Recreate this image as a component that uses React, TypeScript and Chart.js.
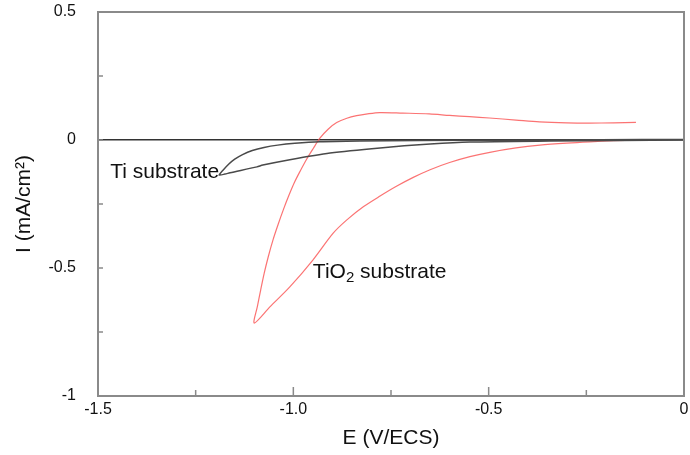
import React, { useEffect, useRef } from "react";
import { Chart, registerables } from "chart.js";

Chart.register(...registerables);

// Ti substrate sweep: upper branch from 0 V down to the vertex, then lower branch back
const tiPotential = [
  0, -0.215, -0.47, -0.677, -0.83, -0.932, -0.996, -1.04, -1.075, -1.105, -1.13, -1.15, -1.165, -1.18, -1.19,
  -1.175, -1.162, -1.093, -1.078, -1.009, -0.906, -0.778, -0.65, -0.548, -0.343, -0.164, 0,
];
const tiCurrent = [
  0.002, 0.001, -0.001, -0.002, -0.004, -0.007, -0.013, -0.02, -0.029, -0.041, -0.057, -0.075, -0.094, -0.118, -0.137,
  -0.133, -0.128, -0.105, -0.098, -0.077, -0.051, -0.031, -0.016, -0.008, -0.004, -0.002, 0,
];

// TiO2 substrate sweep: cathodic branch from -0.12 V to the vertex, then return branch
const tio2Potential = [
  -0.12, -0.18, -0.241, -0.3, -0.369, -0.43, -0.497, -0.548, -0.6, -0.65, -0.693, -0.735,
  -0.778, -0.82, -0.863, -0.898, -0.95, -1.009, -1.06, -1.1,
  -1.092, -1.0835, -1.0745, -1.064, -1.052, -1.039, -1.025, -1.011, -0.997, -0.982, -0.966, -0.949,
  -0.932, -0.911, -0.889, -0.863, -0.838, -0.81, -0.779, -0.72, -0.652, -0.6, -0.549, -0.498,
  -0.43, -0.37, -0.3, -0.243, -0.18, -0.123,
];
const tio2Current = [
  0, -0.003, -0.007, -0.012, -0.02, -0.031, -0.048, -0.065, -0.088, -0.116, -0.146, -0.18,
  -0.219, -0.26, -0.312, -0.364, -0.469, -0.574, -0.652, -0.715,
  -0.65, -0.585, -0.52, -0.455, -0.39, -0.33, -0.27, -0.215, -0.165, -0.12, -0.075, -0.033,
  0.007, 0.042, 0.068, 0.085, 0.095, 0.102, 0.107, 0.105, 0.102, 0.096, 0.091, 0.086,
  0.078, 0.071, 0.067, 0.066, 0.067, 0.069,
];

// Tick labels (every 0.25 gets a tick mark, only these values are labelled)
const xMajorValues = [-1.5, -1.0, -0.5, 0];
const xTickLabels = ["-1.5", "-1.0", "-0.5", "0"];
const yMajorValues = [0.5, 0, -0.5, -1];
const yTickLabels = ["0.5", "0", "-0.5", "-1"];

const FONT = "'Liberation Sans', Arial, Helvetica, sans-serif";
const TEXT = "#111";
const FRAME = "#8a8a8a";

const labelFor = (values: number[], labels: string[], v: number) => {
  const i = values.findIndex((m) => Math.abs(m - v) < 1e-6);
  return i >= 0 ? labels[i] : "";
};

const toPoints = (xs: number[], ys: number[]) => xs.map((x, i) => ({ x, y: ys[i] }));

// Closes the box, draws inward tick marks and the curve annotations
const framePlugin = {
  id: "frameAndNotes",
  afterDraw(chart: any) {
    const { ctx, chartArea } = chart;
    const { left, right, top, bottom } = chartArea;
    const xs = chart.scales.x;
    const ys = chart.scales.y;
    ctx.save();
    ctx.strokeStyle = FRAME;
    ctx.lineWidth = 2;
    ctx.beginPath();
    ctx.moveTo(left, top);
    ctx.lineTo(right, top);
    ctx.lineTo(right, bottom);
    ctx.stroke();

    ctx.lineWidth = 1.5;
    ctx.beginPath();
    xs.ticks.forEach((t: any) => {
      const px = xs.getPixelForValue(t.value);
      if (px <= left + 1 || px >= right - 1) return;
      const major = labelFor(xMajorValues, xTickLabels, t.value) !== "";
      ctx.moveTo(px, bottom);
      ctx.lineTo(px, bottom - (major ? 9 : 6));
    });
    ys.ticks.forEach((t: any) => {
      const py = ys.getPixelForValue(t.value);
      if (py <= top + 1 || py >= bottom - 1) return;
      ctx.moveTo(left, py);
      ctx.lineTo(left + 5, py);
    });
    ctx.stroke();

    // annotations
    ctx.fillStyle = TEXT;
    ctx.textBaseline = "middle";
    ctx.font = `21px ${FONT}`;
    ctx.textAlign = "right";
    ctx.fillText("Ti substrate", xs.getPixelForValue(-1.19), ys.getPixelForValue(-0.125));

    ctx.textAlign = "left";
    let tx = xs.getPixelForValue(-0.95);
    const ty = ys.getPixelForValue(-0.516);
    ctx.fillText("TiO", tx, ty);
    tx += ctx.measureText("TiO").width;
    ctx.font = `15px ${FONT}`;
    ctx.fillText("2", tx, ty + 6);
    tx += ctx.measureText("2").width;
    ctx.font = `21px ${FONT}`;
    ctx.fillText(" substrate", tx, ty);
    ctx.restore();
  },
};

export default function App() {
  const canvasRef = useRef<HTMLCanvasElement | null>(null);

  useEffect(() => {
    if (!canvasRef.current) return;
    const chart = new Chart(canvasRef.current, {
      type: "scatter",
      data: {
        datasets: [
          {
            label: "Ti substrate",
            data: toPoints(tiPotential, tiCurrent),
            showLine: true,
            borderColor: "#4a4a4a",
            borderWidth: 1.5,
            pointRadius: 0,
            tension: 0.25,
          },
          {
            label: "TiO2 substrate",
            data: toPoints(tio2Potential, tio2Current),
            showLine: true,
            borderColor: "rgba(250, 90, 90, 0.85)",
            borderWidth: 1.2,
            pointRadius: 0,
            tension: 0.3,
          },
        ],
      },
      options: {
        responsive: false,
        animation: false,
        layout: { padding: { top: 12, right: 6, left: 0, bottom: 0 } },
        plugins: {
          legend: { display: false },
          tooltip: { enabled: false },
        },
        scales: {
          x: {
            type: "linear",
            min: -1.5,
            max: 0,
            afterFit: (scale: any) => {
              scale.height = 59;
              scale.paddingLeft = 0;
              scale.paddingRight = 0;
            },
            ticks: {
              stepSize: 0.25,
              autoSkip: false,
              maxRotation: 0,
              padding: 4,
              color: TEXT,
              font: { family: FONT, size: 16 },
              callback: (v: any) => labelFor(xMajorValues, xTickLabels, Number(v)),
            },
            grid: { display: false, drawTicks: false },
            border: { display: true, color: FRAME, width: 2 },
            title: {
              display: true,
              text: "E (V/ECS)",
              color: TEXT,
              font: { family: FONT, size: 21 },
              padding: { top: 0, bottom: 4 },
            },
          },
          y: {
            type: "linear",
            min: -1,
            max: 0.5,
            afterFit: (scale: any) => {
              scale.width = 98;
              scale.paddingTop = 0;
              scale.paddingBottom = 0;
            },
            ticks: {
              stepSize: 0.25,
              autoSkip: false,
              padding: 22,
              color: TEXT,
              font: { family: FONT, size: 16 },
              callback: (v: any) => labelFor(yMajorValues, yTickLabels, Number(v)),
            },
            grid: {
              drawTicks: false,
              lineWidth: 1.5,
              color: (c: any) => (c.tick && Math.abs(c.tick.value) < 1e-6 ? "#333" : "rgba(0,0,0,0)"),
            },
            border: { display: true, color: FRAME, width: 2 },
            title: {
              display: true,
              text: "I (mA/cm²)",
              color: TEXT,
              font: { family: FONT, size: 21 },
              padding: { top: 12, bottom: 0 },
            },
          },
        },
      },
      plugins: [framePlugin],
    });
    return () => chart.destroy();
  }, []);

  return (
    <div style={{ position: "fixed", left: 0, top: 0, width: 690, height: 455, background: "#fff" }}>
      <canvas ref={canvasRef} width={690} height={455} />
    </div>
  );
}
